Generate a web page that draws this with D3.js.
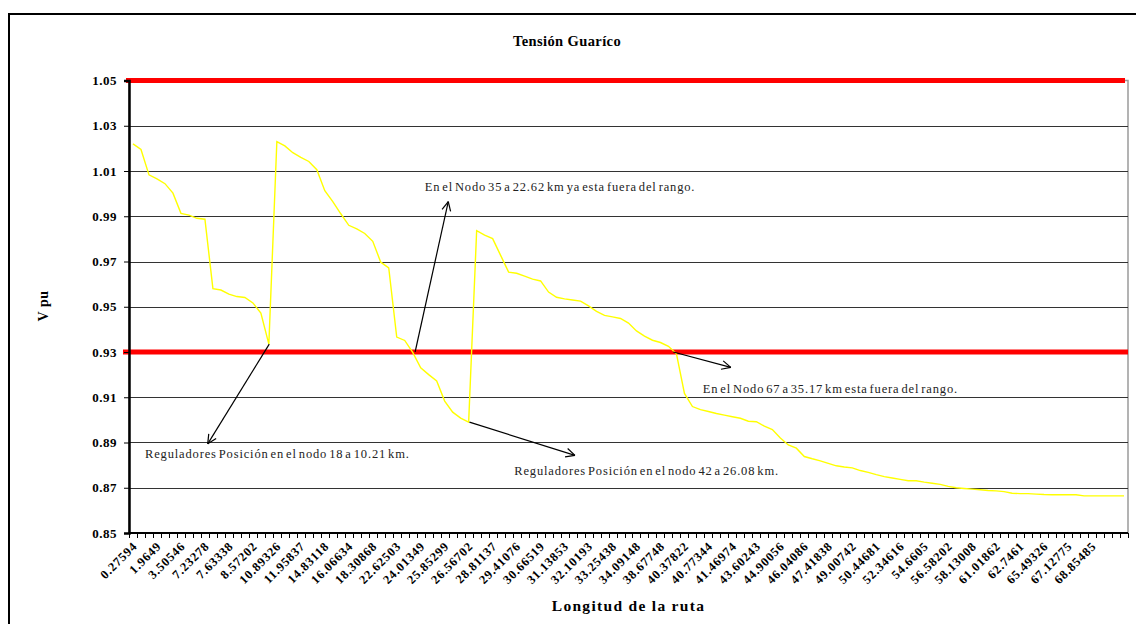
<!DOCTYPE html>
<html>
<head>
<meta charset="utf-8">
<script src="https://cdn.jsdelivr.net/npm/d3@7"></script>
<style>
  body { margin: 0; background: #fff; }
  svg text { font-family: "Liberation Serif", "Times New Roman", Times, serif !important; }
</style>
</head>
<body>
<script>
// Set up chart
var svgWidth = 1136;
var svgHeight = 624;
var plot = { left: 129, right: 1128, top: 80.5, bottom: 533 };
var serif = "'Liberation Serif', 'Times New Roman', Times, serif";

// tension (V pu) at each node along the route
var tension = [
  1.0220, 1.0195, 1.0083, 1.0065, 1.0044, 1.0002, 0.9913, 0.9905, 0.9891, 0.9887,
  0.9580, 0.9574, 0.9556, 0.9545, 0.9541, 0.9517, 0.9472, 0.9335, 1.0230, 1.0211,
  1.0181, 1.0160, 1.0142, 1.0106, 1.0013, 0.9965, 0.9911, 0.9860, 0.9844, 0.9824,
  0.9789, 0.9697, 0.9672, 0.9366, 0.9351, 0.9298, 0.9230, 0.9200, 0.9172, 0.9083,
  0.9034, 0.9008, 0.8990, 0.9836, 0.9817, 0.9801, 0.9727, 0.9653, 0.9648, 0.9635,
  0.9622, 0.9614, 0.9565, 0.9542, 0.9535, 0.9530, 0.9525, 0.9504, 0.9480, 0.9462,
  0.9455, 0.9448, 0.9428, 0.9393, 0.9370, 0.9352, 0.9342, 0.9325, 0.9292, 0.9117,
  0.9059, 0.9045, 0.9037, 0.9028, 0.9021, 0.9014, 0.9007, 0.8994, 0.8992, 0.8972,
  0.8957, 0.8920, 0.8889, 0.8875, 0.8838, 0.8828, 0.8819, 0.8808, 0.8797, 0.8792,
  0.8788, 0.8776, 0.8768, 0.8758, 0.8749, 0.8743, 0.8737, 0.8731, 0.8731, 0.8725,
  0.8720, 0.8715, 0.8706, 0.8700, 0.8697, 0.8694, 0.8691, 0.8688, 0.8686, 0.8683,
  0.8676, 0.8674, 0.8674, 0.8672, 0.8670, 0.8669, 0.8669, 0.8669, 0.8669, 0.8664,
  0.8664, 0.8664, 0.8664, 0.8664, 0.8664
];

// km labels shown under every third node
var kmLabels = [
  "0.27594", "1.9649", "3.50546", "7.23278", "7.63338", "8.57202", "10.89326", "11.95837",
  "14.83118", "16.06634", "18.30868", "22.62503", "24.01349", "25.85299", "26.56702",
  "28.81137", "29.41076", "30.66519", "31.13853", "32.10193", "33.25438", "34.09148",
  "38.67748", "40.37822", "40.77344", "41.46974", "43.60243", "44.90056", "46.04086",
  "47.41838", "49.00742", "50.44681", "52.34616", "54.6605", "56.58202", "58.13008",
  "61.01862", "62.7461", "65.49326", "67.12775", "68.85485"
];
var labelStep = 3;

var yTicks = [0.85, 0.87, 0.89, 0.91, 0.93, 0.95, 0.97, 0.99, 1.01, 1.03, 1.05];
// allowed range (red lines)
var limits = [1.05, 0.93];

// callouts: position in node units (u) and V pu (v)
var notes = [
  { text: "En el Nodo 35 a 22.62 km ya esta fuera del rango.", tu: 37.0, tv: 1.0013, from: [35.8, 0.930], to: [39.95, 0.9965] },
  { text: "Reguladores Posición en el nodo 18 a 10.21 km.", tu: 2.0, tv: 0.8833, from: [17.55, 0.9335], to: [9.85, 0.8894] },
  { text: "Reguladores Posición en el nodo 42 a 26.08 km.", tu: 48.2, tv: 0.8757, from: [42.6, 0.8990], to: [55.8, 0.8843] },
  { text: "En el Nodo 67 a 35.17 km esta fuera del rango.", tu: 71.8, tv: 0.9120, from: [68.1, 0.930], to: [75.3, 0.9232] }
];

var svg = d3.select("body")
  .append("svg")
  .attr("width", svgWidth)
  .attr("height", svgHeight)
  .attr("font-family", serif);

// outer chart frame (cut off at right / bottom like the original)
svg.append("rect")
  .attr("x", 9).attr("y", 14)
  .attr("width", 1150).attr("height", 640)
  .attr("fill", "none")
  .attr("stroke", "#000")
  .attr("stroke-width", 2);

// scales
var xScale = d3.scaleBand()
  .domain(d3.range(tension.length))
  .range([plot.left, plot.right])
  .padding(0);
var uScale = d3.scaleLinear()
  .domain([0, tension.length])
  .range([plot.left, plot.right]);
var yScale = d3.scaleLinear()
  .domain([0.85, 1.05])
  .range([plot.bottom, plot.top]);

// plot border
svg.append("rect")
  .attr("x", plot.left).attr("y", plot.top)
  .attr("width", plot.right - plot.left)
  .attr("height", plot.bottom - plot.top)
  .attr("fill", "none")
  .attr("stroke", "#9a9a9a")
  .attr("stroke-width", 1.5);

// gridlines
svg.append("g")
  .selectAll("line")
  .data(yTicks.slice(1, -1))
  .enter()
  .append("line")
  .attr("x1", plot.left).attr("x2", plot.right)
  .attr("y1", function(d) { return Math.round(yScale(d)) + 0.5; })
  .attr("y2", function(d) { return Math.round(yScale(d)) + 0.5; })
  .attr("stroke", "#333")
  .attr("stroke-width", 1);

// red limit lines
svg.append("g")
  .selectAll("line")
  .data(limits)
  .enter()
  .append("line")
  .attr("x1", function(d, i) { return i === 0 ? 126 : 123; })
  .attr("x2", function(d, i) { return i === 0 ? 1125 : 1128; })
  .attr("y1", function(d) { return yScale(d); })
  .attr("y2", function(d) { return yScale(d); })
  .attr("stroke", "#ff0000")
  .attr("stroke-width", 5);

// the tension line
var line = d3.line()
  .x(function(d, i) { return xScale(i) + xScale.bandwidth() / 2; })
  .y(function(d) { return yScale(d); });

svg.append("path")
  .datum(tension)
  .attr("d", line)
  .attr("fill", "none")
  .attr("stroke", "#ffff00")
  .attr("stroke-width", 1.4);

// y axis
var yAxis = d3.axisLeft(yScale)
  .tickValues(yTicks)
  .tickFormat(d3.format(".2f"))
  .tickSize(5)
  .tickPadding(7);
var gy = svg.append("g")
  .attr("transform", "translate(" + plot.left + ",0)")
  .call(yAxis)
  .attr("font-family", serif);
gy.select(".domain").attr("stroke", "#000").attr("stroke-width", 2.5);
gy.selectAll(".tick line").attr("stroke", "#000");
gy.selectAll("text")
  .attr("font-size", 13)
  .attr("font-weight", "bold")
  .attr("letter-spacing", 0.5)
  .attr("font-family", serif)
  .attr("fill", "#000");

// x axis: ticks between every node, label every third node
var gx = svg.append("g")
  .attr("transform", "translate(0," + plot.bottom + ")");
gx.append("line")
  .attr("x1", plot.left).attr("x2", plot.right)
  .attr("stroke", "#000").attr("stroke-width", 2);
gx.selectAll(".tk")
  .data(d3.range(tension.length + 1))
  .enter()
  .append("line")
  .attr("class", "tk")
  .attr("x1", function(d) { return Math.round(uScale(d)) + 0.5; })
  .attr("x2", function(d) { return Math.round(uScale(d)) + 0.5; })
  .attr("y1", 0).attr("y2", 5)
  .attr("stroke", "#000");
gx.selectAll(".lbl")
  .data(kmLabels)
  .enter()
  .append("text")
  .attr("class", "lbl")
  .attr("transform", function(d, i) {
    var x = xScale(i * labelStep) + xScale.bandwidth() / 2 + 5;
    return "translate(" + x + ",14) rotate(-45)";
  })
  .attr("text-anchor", "end")
  .attr("font-size", 12.5)
  .attr("font-weight", "bold")
  .attr("letter-spacing", 0.8)
  .attr("font-family", serif)
  .text(function(d) { return d; });

// titles
svg.append("text")
  .attr("x", 567).attr("y", 46)
  .attr("text-anchor", "middle")
  .attr("font-size", 14.5)
  .attr("font-weight", "bold")
  .attr("letter-spacing", 0.4)
  .attr("font-family", serif)
  .text("Tensión Guaríco");

svg.append("text")
  .attr("x", (plot.left + plot.right) / 2).attr("y", 611)
  .attr("text-anchor", "middle")
  .attr("font-size", 15.5)
  .attr("font-weight", "bold")
  .attr("letter-spacing", 1.3)
  .attr("font-family", serif)
  .text("Longitud de la ruta");

svg.append("text")
  .attr("transform", "translate(48,306) rotate(-90)")
  .attr("text-anchor", "middle")
  .attr("font-size", 14)
  .attr("font-weight", "bold")
  .attr("letter-spacing", 0.5)
  .attr("font-family", serif)
  .text("V pu");

// callouts with open arrowheads
var gn = svg.append("g").attr("class", "notes");
notes.forEach(function(n) {
  var x1 = uScale(n.from[0]), y1 = yScale(n.from[1]);
  var x2 = uScale(n.to[0]), y2 = yScale(n.to[1]);
  gn.append("line")
    .attr("x1", x1).attr("y1", y1).attr("x2", x2).attr("y2", y2)
    .attr("stroke", "#000").attr("stroke-width", 1.2);
  var a = Math.atan2(y2 - y1, x2 - x1);
  [-0.45, 0.45].forEach(function(s) {
    gn.append("line")
      .attr("x1", x2).attr("y1", y2)
      .attr("x2", x2 - 10 * Math.cos(a + s))
      .attr("y2", y2 - 10 * Math.sin(a + s))
      .attr("stroke", "#000").attr("stroke-width", 1.2);
  });
  gn.append("text")
    .attr("x", uScale(n.tu)).attr("y", yScale(n.tv))
    .attr("font-size", 12.5)
    .attr("letter-spacing", 0.85)
    .attr("word-spacing", -2)
    .attr("font-family", serif)
    .attr("fill", "#222")
    .text(n.text);
});
</script>
</body>
</html>
